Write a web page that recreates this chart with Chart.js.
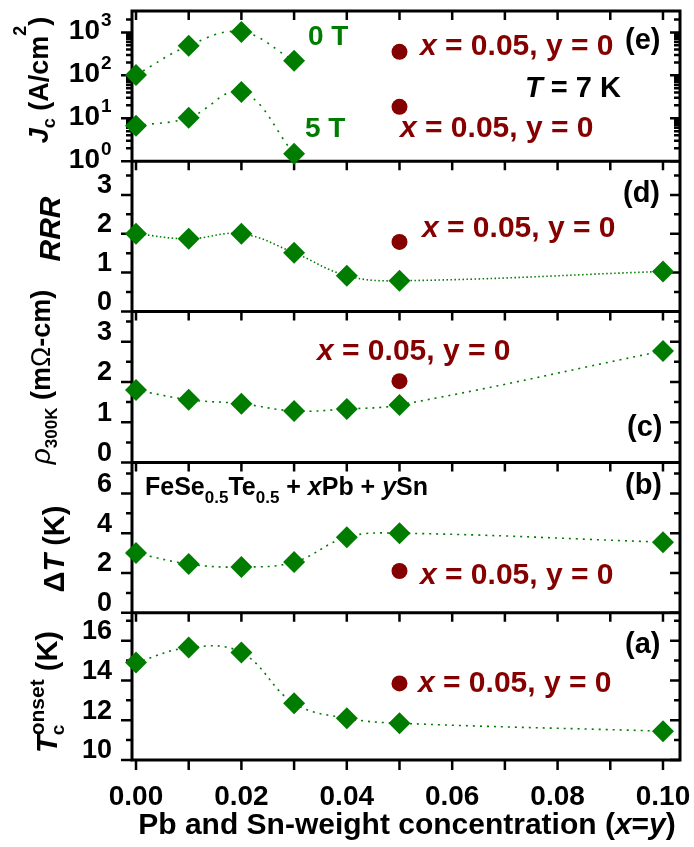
<!DOCTYPE html>
<html>
<head>
<meta charset="utf-8">
<script src="https://cdn.jsdelivr.net/npm/chart.js@4.4.0/dist/chart.umd.min.js"></script>
<style>
  html, body { margin: 0; padding: 0; background: #fff; }
  canvas { display: block; }
</style>
</head>
<body>
<canvas id="fig" width="694" height="847"></canvas>
<script>
/* ---- data ---- */
const conc   = [0, 0.01, 0.02, 0.03, 0.04, 0.05, 0.10];   // x = y
const concJc = [0, 0.01, 0.02, 0.03];
const refX   = 0.05;                                      // x = 0.05, y = 0 sample

const jc0T  = [102, 490, 1030, 218];
const jc5T  = [6.7, 10.3, 41, 1.5];
const jcRef = [353, 18.5];                 // 0 T, 5 T
const rrr    = [2.0, 1.87, 2.0, 1.51, 0.92, 0.79, 1.03];
const rrrRef = 1.79;
const rho    = [1.80, 1.56, 1.46, 1.28, 1.33, 1.43, 2.77];
const rhoRef = 2.02;
const dT     = [3.0, 2.45, 2.3, 2.55, 3.8, 4.0, 3.55];
const dTRef  = 2.1;
const tc     = [14.9, 15.65, 15.4, 12.85, 12.1, 11.85, 11.45];
const tcRef  = 13.85;

/* ---- ticks ---- */
const xTicks   = [0, 0.02, 0.04, 0.06, 0.08, 0.10];
const xMinor   = [0.01, 0.03, 0.05, 0.07, 0.09];
const jcTicks  = [1, 10, 100, 1000];
const jcExp    = ['0', '1', '2', '3'];
const jcMinor  = [2, 3, 4, 5, 6, 7, 8, 9, 20, 30, 40, 50, 60, 70, 80, 90,
                  200, 300, 400, 500, 600, 700, 800, 900, 2000, 3000];
const rrrTicks = [0, 1, 2, 3];
const rrrMinor = [0.5, 1.5, 2.5, 3.5];
const rhoTicks = [0, 1, 2, 3];
const rhoMinor = [0.5, 1.5, 2.5, 3.5];
const dTTicks  = [0, 2, 4, 6];
const dTMinor  = [1, 3, 5, 7];
const tcTicks  = [10, 12, 14, 16];
const tcMinor  = [11, 13, 15, 17];

const FAM = "'Liberation Sans', Arial, sans-serif";
const GREEN = '#007d00';
const RED = '#850000';
const LEFT = 132;

const pts = (xs, ys) => ys.map((y, i) => ({ x: xs[i], y }));

function series(xs, ys, axis, dash) {
  return {
    data: pts(xs, ys), yAxisID: axis,
    borderColor: GREEN, borderWidth: 1.6, borderDash: dash, tension: 0.4,
    pointStyle: 'rectRot', pointRadius: 11, pointBackgroundColor: GREEN,
    pointBorderWidth: 0, clip: false
  };
}
function refPoint(y, axis) {
  return {
    data: [{ x: refX, y }], yAxisID: axis, showLine: false,
    pointStyle: 'circle', pointRadius: 8, pointBackgroundColor: RED,
    pointBorderWidth: 0, clip: false
  };
}

function noPad(s) {
  s.paddingTop = 0; s.paddingBottom = 0; s.paddingLeft = 0; s.paddingRight = 0;
}

function yAxis(type, min, max, h, w, ticks, showLabels) {
  return {
    type, min, max, position: 'left', stack: 'panels', stackWeight: h, weight: w,
    grid: { display: false, drawTicks: false }, border: { display: false },
    afterFit: s => { s.width = LEFT; noPad(s); },
    afterBuildTicks: s => { s.ticks = ticks.map(v => ({ value: v })); },
    ticks: {
      display: showLabels, autoSkip: false, color: '#000', padding: 20, labelOffset: -9,
      font: { family: FAM, size: 27, weight: 'bold' },
      callback: v => String(v)
    }
  };
}

/* panels top to bottom, with tick lists for the frame plugin */
const panels = [
  { id: 'yE', major: jcTicks,  minor: jcMinor },
  { id: 'yD', major: rrrTicks, minor: rrrMinor },
  { id: 'yC', major: rhoTicks, minor: rhoMinor },
  { id: 'yB', major: dTTicks,  minor: dTMinor },
  { id: 'yA', major: tcTicks,  minor: tcMinor }
];

function font(size, style) { return `${style || 'bold'} ${size}px ${FAM}`; }

/* draw a run of text pieces: [text, size, style, dy, noAdvance] */
function rich(ctx, parts, x, y, align, rotated, color) {
  ctx.save();
  ctx.fillStyle = color || '#000';
  ctx.textBaseline = 'alphabetic';
  ctx.textAlign = 'left';
  let total = 0;
  parts.forEach(p => { ctx.font = font(p[1], p[2]); if (!p[4]) total += ctx.measureText(p[0]).width; });
  ctx.translate(x, y);
  if (rotated) ctx.rotate(-Math.PI / 2);
  let cx = align === 'center' ? -total / 2 : 0;
  parts.forEach(p => {
    ctx.font = font(p[1], p[2]);
    ctx.fillText(p[0], cx, p[3] || 0);
    if (!p[4]) cx += ctx.measureText(p[0]).width;
  });
  ctx.restore();
}

const redLabel = [['x', 30, 'italic bold'], [' = 0.05, y = 0', 30, 'bold']];

const framePlugin = {
  id: 'frame',
  beforeDatasetsDraw(chart) {
    const { ctx, chartArea: a, scales } = chart;
    const xs = scales.x;
    const xAll = xTicks.concat(xMinor);
    ctx.save();
    ctx.strokeStyle = '#000';
    ctx.lineWidth = 2.5;
    ctx.beginPath();
    panels.forEach(p => {
      const s = scales[p.id];
      p.major.forEach(v => {
        const y = s.getPixelForValue(v);
        ctx.moveTo(a.left, y); ctx.lineTo(a.left - 11, y);
        ctx.moveTo(a.right, y); ctx.lineTo(a.right - 10, y);
      });
      p.minor.forEach(v => {
        const y = s.getPixelForValue(v);
        if (y < s.top + 1) return;
        ctx.moveTo(a.left, y); ctx.lineTo(a.left - 6, y);
        ctx.moveTo(a.right, y); ctx.lineTo(a.right - 6, y);
      });
      xAll.forEach(v => {
        const x = xs.getPixelForValue(v);
        ctx.moveTo(x, s.top); ctx.lineTo(x, s.top + 9);
      });
    });
    xAll.forEach(v => {
      const x = xs.getPixelForValue(v);
      ctx.moveTo(x, a.bottom); ctx.lineTo(x, a.bottom + 10);
    });
    ctx.stroke();

    ctx.lineWidth = 3;
    ctx.beginPath();
    ctx.rect(a.left, a.top, a.right - a.left, a.bottom - a.top);
    panels.forEach(p => {
      const s = scales[p.id];
      ctx.moveTo(a.left, s.bottom); ctx.lineTo(a.right, s.bottom);
    });
    ctx.stroke();
    ctx.restore();
  },
  afterDraw(chart) {
    const { ctx, scales } = chart;
    const sE = scales.yE;

    /* log labels for Jc */
    jcTicks.forEach((v, i) => {
      const y = sE.getPixelForValue(v);
      ctx.save();
      ctx.fillStyle = '#000';
      ctx.textAlign = 'right';
      ctx.textBaseline = 'alphabetic';
      ctx.font = font(28);
      ctx.fillText('10', 100, y + 7);
      ctx.textAlign = 'left';
      ctx.font = font(19);
      ctx.fillText(jcExp[i], 101, y - 6);
      ctx.restore();
    });

    /* y titles */
    rich(ctx, [['J', 27, 'italic bold'], ['c', 18, 'bold', 7], [' (A/cm', 27, 'bold'],
               ['2', 18, 'bold', -22], [')', 27, 'bold']], 48, 80, 'center', true);
    rich(ctx, [['RRR', 30, 'italic bold']], 60, 229, 'center', true);
    rich(ctx, [['\u03c1', 28, 'italic'], ['300K', 17, 'bold', 7], [' (m', 27, 'bold'],
               ['\u03a9', 27, 'normal'], ['-cm)', 27, 'bold']], 50, 377, 'center', true);
    rich(ctx, [['\u0394', 29, 'bold'], ['T', 29, 'italic bold'], [' (K)', 29, 'bold']],
         64, 549, 'center', true);
    rich(ctx, [['T', 29, 'italic bold'], ['c', 19, 'bold', 7, true], ['onset', 21, 'bold', -13],
               [' (K)', 29, 'bold']], 57, 692, 'center', true);

    /* x title */
    rich(ctx, [['Pb and Sn-weight concentration (', 30, 'bold'], ['x', 30, 'italic bold'],
               ['=', 30, 'bold'], ['y', 30, 'italic bold'], [')', 30, 'bold']],
         407, 834, 'center', false);

    /* annotations */
    rich(ctx, [['0 T', 28, 'bold']], 308, 45, 'left', false, GREEN);
    rich(ctx, [['5 T', 28, 'bold']], 305, 137, 'left', false, GREEN);
    rich(ctx, [['T', 29, 'italic bold'], [' = 7 K', 29, 'bold']], 525, 97, 'left', false);
    [[420, 55], [400, 137], [422, 237], [317, 360], [420, 584], [418, 692]].forEach(p =>
      rich(ctx, redLabel, p[0], p[1], 'left', false, RED));
    [['(e)', 625, 49], ['(d)', 623, 202], ['(c)', 627, 436], ['(b)', 625, 494], ['(a)', 625, 653]]
      .forEach(p => rich(ctx, [[p[0], 29, 'bold']], p[1], p[2], 'left', false));
    rich(ctx, [['FeSe', 25, 'bold'], ['0.5', 17, 'bold', 8], ['Te', 25, 'bold'], ['0.5', 17, 'bold', 8],
               [' + ', 25, 'bold'], ['x', 25, 'italic bold'], ['Pb + ', 25, 'bold'],
               ['y', 25, 'italic bold'], ['Sn', 25, 'bold']], 145, 495, 'left', false);
  }
};

new Chart(document.getElementById('fig'), {
  type: 'line',
  data: {
    datasets: [
      series(concJc, jc0T, 'yE', [2, 6]),
      series(concJc, jc5T, 'yE', [2, 6]),
      refPoint(jcRef[0], 'yE'),
      refPoint(jcRef[1], 'yE'),
      series(conc, rrr, 'yD', [1.5, 2.5]),
      refPoint(rrrRef, 'yD'),
      series(conc, rho, 'yC', [2, 5]),
      refPoint(rhoRef, 'yC'),
      series(conc, dT, 'yB', [2, 5]),
      refPoint(dTRef, 'yB'),
      series(conc, tc, 'yA', [2, 5]),
      refPoint(tcRef, 'yA')
    ]
  },
  options: {
    responsive: false,
    animation: false,
    events: [],
    layout: { padding: { left: 0, right: 14, top: 7, bottom: 0 } },
    plugins: { legend: { display: false }, tooltip: { enabled: false } },
    scales: {
      x: {
        type: 'linear', min: -0.00076, max: 0.10323,
        grid: { display: false, drawTicks: false }, border: { display: false },
        afterFit: s => { s.height = 87; noPad(s); },
        afterBuildTicks: s => { s.ticks = xTicks.map(v => ({ value: v })); },
        ticks: {
          autoSkip: false, maxRotation: 0, color: '#000', padding: 20,
          font: { family: FAM, size: 28, weight: 'bold' },
          callback: v => v.toFixed(2)
        }
      },
      yA: yAxis('linear', 10, 17.4, 148, 1, tcTicks, true),
      yB: yAxis('linear', 0, 7.55, 151, 2, dTTicks, true),
      yC: yAxis('linear', 0, 3.75, 152, 3, rhoTicks, true),
      yD: yAxis('linear', 0, 3.87, 151, 4, rrrTicks, true),
      yE: yAxis('logarithmic', 1, 3160, 151, 5, jcTicks, false)
    }
  },
  plugins: [framePlugin]
});
</script>
</body>
</html>
